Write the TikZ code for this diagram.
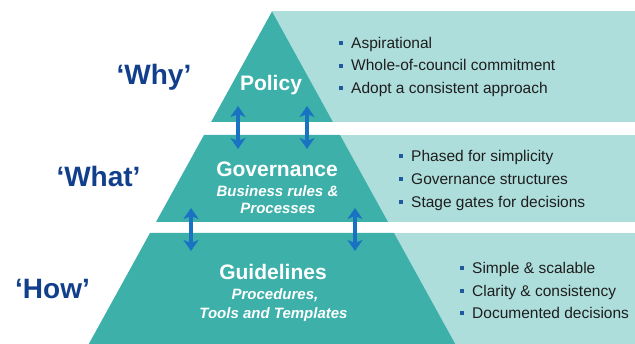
\documentclass[tikz,border=0pt]{standalone}
\usepackage{fontspec}
\setmainfont{Liberation Sans}
\usetikzlibrary{arrows.meta}
\definecolor{darkteal}{HTML}{3DB0AA}
\definecolor{lightteal}{HTML}{ADDEDC}
\definecolor{navy}{HTML}{123F8C}
\definecolor{arrowblue}{HTML}{1A72C2}
\definecolor{bultext}{HTML}{1E1E1E}
\definecolor{bulsq}{HTML}{1F5A9E}
\newcommand{\bulsq}{\textcolor{bulsq}{\rule[0.22em]{4pt}{4pt}}\hspace{8pt}}
\begin{document}
\begin{tikzpicture}[x=1pt,y=-1pt,
  question/.style={font=\fontsize{28}{30}\selectfont\bfseries, text=navy, anchor=base, inner sep=0pt},
  title/.style={font=\fontsize{21}{24}\selectfont\bfseries, text=white, anchor=base, inner sep=0pt},
  sub/.style={font=\fontsize{15}{18}\selectfont\bfseries\itshape, text=white, anchor=base, inner sep=0pt},
  bul/.style={font=\fontsize{15.5}{18}\selectfont, text=bultext, anchor=base west, inner sep=0pt},
  dbl/.style={arrowblue, line width=3.2pt, {Stealth[width=15pt,length=11pt,inset=3pt]}-{Stealth[width=15pt,length=11pt,inset=3pt]}}
]
\useasboundingbox (0,0) rectangle (635,344);
\fill[white] (0,0) rectangle (635,344);
% light bands
\fill[lightteal] (272,11.5) rectangle (635,122);
\fill[lightteal] (272,135) rectangle (635,222);
\fill[lightteal] (272,233) rectangle (635,344);
% pyramid bands
\fill[darkteal] (272,11.5) -- (332.9,122) -- (211.1,122) -- cycle;
\fill[darkteal] (204,135) -- (340,135) -- (388,222) -- (156,222) -- cycle;
\fill[darkteal] (150,233) -- (394,233) -- (455.2,344) -- (88.8,344) -- cycle;
% question labels
\node[question] (why) at (154,85) {‘Why’};
\node[question] (what) at (98.5,186.7) {‘What’};
\node[question] (how) at (52.5,299) {‘How’};
% titles
\node[title] (policy) at (271,90.7) {Policy};
\node[title] (gov) at (277,176.7) {Governance};
\node[sub] (gov1) at (277.5,197) {Business rules \&};
\node[sub] (gov2) at (278,214) {Processes};
\node[title] (guide) at (273,280) {Guidelines};
\node[sub] (guide1) at (275,300) {Procedures,};
\node[sub] (guide2) at (273.5,319) {Tools and Templates};
% bullets band 1
\node[bul] (b11) at (339,48.3) {\bulsq Aspirational};
\node[bul] (b12) at (339,71) {\bulsq Whole-of-council commitment};
\node[bul] (b13) at (339,93.5) {\bulsq Adopt a consistent approach};
% bullets band 2
\node[bul] (b21) at (399,161.7) {\bulsq Phased for simplicity};
\node[bul] (b22) at (399,184.5) {\bulsq Governance structures};
\node[bul] (b23) at (399,207.5) {\bulsq Stage gates for decisions};
% bullets band 3
\node[bul] (b31) at (460,273.7) {\bulsq Simple \& scalable};
\node[bul] (b32) at (460,296.2) {\bulsq Clarity \& consistency};
\node[bul] (b33) at (460,318.7) {\bulsq Documented decisions};
% arrows
\coordinate (a1t) at (238,106);
\coordinate (a1b) at (238,149);
\coordinate (a2t) at (307,106);
\coordinate (a2b) at (307,149);
\coordinate (a3t) at (191,208);
\coordinate (a3b) at (191,251);
\coordinate (a4t) at (355,208);
\coordinate (a4b) at (355,251);
\draw[dbl] (a1t) -- (a1b);
\draw[dbl] (a2t) -- (a2b);
\draw[dbl] (a3t) -- (a3b);
\draw[dbl] (a4t) -- (a4b);
\end{tikzpicture}
\end{document}
